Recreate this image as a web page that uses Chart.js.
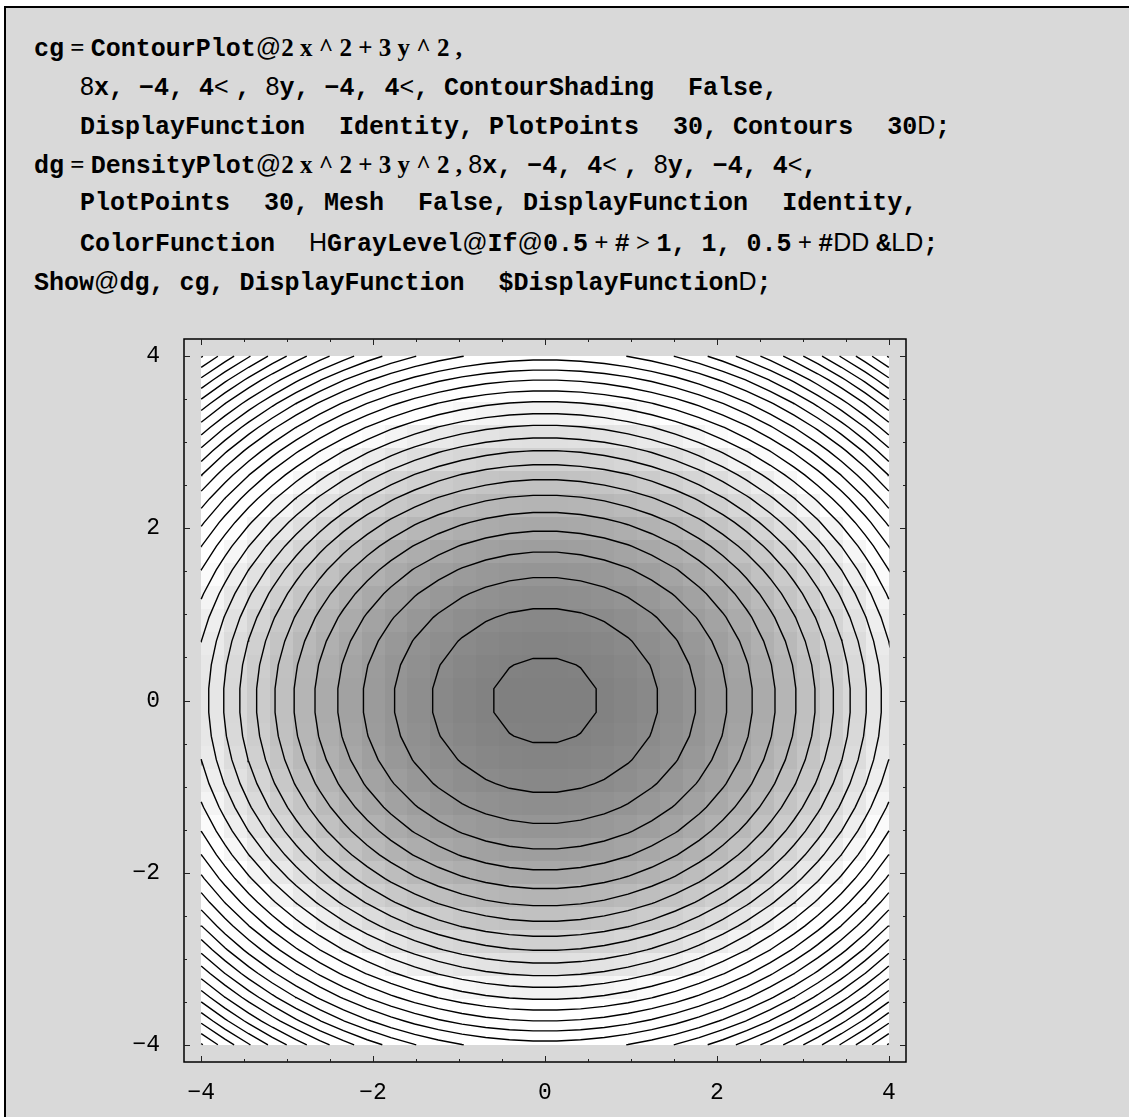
<!DOCTYPE html>
<html>
<head>
<meta charset="utf-8">
<script src="https://cdn.jsdelivr.net/npm/chart.js@4.4.1/dist/chart.umd.min.js"></script>
<style>
  html, body { margin:0; padding:0; background:#fff; }
  #page { position:absolute; left:4px; top:6px; width:1125px; height:1111px; background:#d9d9d9; border-left:2px solid #000; border-top:2px solid #000; }
  .c { position:absolute; left:0; white-space:pre; font:bold 25px "Liberation Mono", monospace; line-height:39px; color:#000; }
  .t { font-family:"Liberation Serif", serif; }
  .g { font-family:"Liberation Sans", sans-serif; font-weight:normal; }
  .a { display:inline-block; width:34px; }
  #wrap { position:absolute; left:0; top:300px; width:1129px; height:817px; }
</style>
</head>
<body>
<div id="page"></div>
<div class="c" style="left:34px;top:28px">cg<span class="t"> = </span>ContourPlot<span class="g">@</span><span class="t">2 x ^ 2 + 3 y ^ 2 ,</span></div>
<div class="c" style="left:80px;top:67px"><span class="g">8</span>x, −4, 4<span class="g">&lt; </span>, <span class="g">8</span>y, −4, 4<span class="g">&lt;</span>, ContourShading<span class="a"></span>False,</div>
<div class="c" style="left:80px;top:106px">DisplayFunction<span class="a"></span>Identity, PlotPoints<span class="a"></span>30, Contours<span class="a"></span>30<span class="g">D</span>;</div>
<div class="c" style="left:34px;top:145px">dg<span class="t"> = </span>DensityPlot<span class="g">@</span><span class="t">2 x ^ 2 + 3 y ^ 2 , </span><span class="g">8</span>x, −4, 4<span class="g">&lt; </span>, <span class="g">8</span>y, −4, 4<span class="g">&lt;</span>,</div>
<div class="c" style="left:80px;top:184px">PlotPoints<span class="a"></span>30, Mesh<span class="a"></span>False, DisplayFunction<span class="a"></span>Identity,</div>
<div class="c" style="left:80px;top:223px">ColorFunction<span class="a"></span><span class="g">H</span>GrayLevel<span class="g">@</span>If<span class="g">@</span>0.5<span class="t"> + </span>#<span class="t"> &gt; </span>1, 1, 0.5<span class="t"> + </span>#<span class="g">DD </span>&amp;<span class="g">LD</span>;</div>
<div class="c" style="left:34px;top:262px">Show<span class="g">@</span>dg, cg, DisplayFunction<span class="a"></span>$DisplayFunction<span class="g">D</span>;</div>
<div id="wrap"><canvas id="plot"></canvas></div>
<script>
// sample grid (PlotPoints 30 over -4..4)
const samples = [-4.000,-3.724,-3.448,-3.172,-2.897,-2.621,-2.345,-2.069,-1.793,-1.517,
  -1.241,-0.966,-0.690,-0.414,-0.138,0.138,0.414,0.690,0.966,1.241,
  1.517,1.793,2.069,2.345,2.621,2.897,3.172,3.448,3.724,4.000];
// contour levels (30 contours)
const levels = [0.8,3.5,6.2,9.0,11.7,14.4,17.1,19.8,22.6,25.3,
  28.0,30.7,33.4,36.2,38.9,41.6,44.3,47.0,49.8,52.5,
  55.2,57.9,60.6,63.4,66.1,68.8,71.5,74.2,77.0,79.7];
const majorTicks = [-4,-2,0,2,4];
const minorTicks = [-3.5,-3,-2.5,-1.5,-1,-0.5,0.5,1,1.5,2.5,3,3.5];
const plotRange = [-4.2, 4.2];

// the plotted function, 2 x^2 + 3 y^2
const f = (x, y) => 2*x*x + 3*y*y;
const n = samples.length;
const z = samples.map(y => samples.map(x => f(x, y)));  // z[j][i]
const zAll = z.flat();
const zMin = Math.min(...zAll), zMax = Math.max(...zAll);

// marching squares -> segments for one level
function contourSegments(c) {
  const segs = [];
  const lerp = (xa, ya, za, xb, yb, zb) => {
    const t = (c - za) / (zb - za);
    return [xa + t*(xb-xa), ya + t*(yb-ya)];
  };
  for (let j = 0; j < n-1; j++) {
    for (let i = 0; i < n-1; i++) {
      const x0 = samples[i], x1 = samples[i+1], y0 = samples[j], y1 = samples[j+1];
      const a = z[j][i], b = z[j][i+1], d = z[j+1][i], e = z[j+1][i+1];
      const pts = [];
      if ((a < c) !== (b < c)) pts.push(lerp(x0,y0,a, x1,y0,b));   // bottom edge
      if ((b < c) !== (e < c)) pts.push(lerp(x1,y0,b, x1,y1,e));   // right edge
      if ((d < c) !== (e < c)) pts.push(lerp(x0,y1,d, x1,y1,e));   // top edge
      if ((a < c) !== (d < c)) pts.push(lerp(x0,y0,a, x0,y1,d));   // left edge
      if (pts.length === 2) segs.push([pts[0], pts[1]]);
      else if (pts.length === 4) { segs.push([pts[0], pts[1]]); segs.push([pts[2], pts[3]]); }
    }
  }
  return segs;
}

function chain(segs) {
  const key = p => p[0].toFixed(5) + ',' + p[1].toFixed(5);
  const adj = new Map();
  segs.forEach((s, i) => s.forEach(p => {
    const k = key(p);
    if (!adj.has(k)) adj.set(k, []);
    adj.get(k).push(i);
  }));
  const used = segs.map(() => false);
  const walk = (idx, cur) => {
    const pts = [cur];
    while (idx !== -1) {
      used[idx] = true;
      const s = segs[idx];
      const nxt = key(s[0]) === key(cur) ? s[1] : s[0];
      pts.push(nxt); cur = nxt;
      const cand = adj.get(key(cur)).filter(k => !used[k]);
      idx = cand.length ? cand[0] : -1;
    }
    return pts;
  };
  const lines = [];
  for (const [k, list] of adj) {
    if (list.length === 1 && !used[list[0]]) {
      const s = segs[list[0]];
      lines.push(walk(list[0], key(s[0]) === k ? s[0] : s[1]));
    }
  }
  segs.forEach((s, i) => { if (!used[i]) lines.push(walk(i, s[0])); });
  return lines;
}

const datasets = levels.map(c => {
  const data = [];
  chain(contourSegments(c)).forEach(line => {
    line.forEach(p => data.push({x: p[0], y: p[1]}));
    data.push({x: NaN, y: NaN});
  });
  return { data, showLine: true, borderColor: '#000', borderWidth: 1.4, pointRadius: 0, tension: 0, spanGaps: false };
});

// density raster: GrayLevel[If[0.5 + # > 1, 1, 0.5 + #]]
const densityPlugin = {
  id: 'density',
  beforeDatasetsDraw(chart) {
    const {ctx, scales: {x, y}} = chart;
    const w = (samples[n-1] - samples[0]) / n;
    ctx.save();
    for (let j = 0; j < n; j++) {
      for (let i = 0; i < n; i++) {
        const v = (z[j][i] - zMin) / (zMax - zMin);
        const g = Math.round(255 * Math.min(1, 0.5 + v));
        const px0 = Math.round(x.getPixelForValue(samples[0] + i*w));
        const px1 = Math.round(x.getPixelForValue(samples[0] + (i+1)*w));
        const py0 = Math.round(y.getPixelForValue(samples[0] + (j+1)*w));
        const py1 = Math.round(y.getPixelForValue(samples[0] + j*w));
        ctx.fillStyle = `rgb(${g},${g},${g})`;
        ctx.fillRect(px0, py0, px1 - px0, py1 - py0);
      }
    }
    ctx.restore();
  }
};

// frame with inward ticks on all four sides
const framePlugin = {
  id: 'frame',
  afterDraw(chart) {
    const {ctx, chartArea: a, scales: {x, y}} = chart;
    ctx.save();
    ctx.strokeStyle = '#000';
    ctx.lineWidth = 1.5;
    ctx.strokeRect(a.left, a.top, a.right - a.left, a.bottom - a.top);
    ctx.lineWidth = 1;
    ctx.strokeStyle = '#222';
    const tick = (v, len) => {
      const px = Math.round(x.getPixelForValue(v)) + 0.5;
      const py = Math.round(y.getPixelForValue(v)) + 0.5;
      ctx.beginPath();
      ctx.moveTo(px, a.bottom); ctx.lineTo(px, a.bottom - len);
      ctx.moveTo(px, a.top); ctx.lineTo(px, a.top + len);
      ctx.moveTo(a.left, py); ctx.lineTo(a.left + len, py);
      ctx.moveTo(a.right, py); ctx.lineTo(a.right - len, py);
      ctx.stroke();
    };
    majorTicks.forEach(v => tick(v, 6));
    minorTicks.forEach(v => tick(v, 3));
    ctx.restore();
  }
};

const tickLabel = v => (v < 0 ? '\u2212' : '') + Math.abs(v);
const tickFont = { family: '"Liberation Mono", monospace', size: 23 };

new Chart(document.getElementById('plot'), {
  type: 'scatter',
  data: { datasets },
  plugins: [densityPlugin, framePlugin],
  options: {
    responsive: true, maintainAspectRatio: false, animation: false,
    layout: { padding: { top: 39, right: 223, left: 0, bottom: 0 } },
    plugins: { legend: { display: false }, tooltip: { enabled: false } },
    scales: {
      x: {
        type: 'linear', min: plotRange[0], max: plotRange[1],
        grid: { display: false }, border: { display: false },
        afterBuildTicks: s => { s.ticks = majorTicks.map(v => ({ value: v })); },
        afterFit: s => { s.height = 55; },
        ticks: { color: '#000', font: tickFont, padding: 9, maxRotation: 0, callback: tickLabel }
      },
      y: {
        type: 'linear', min: plotRange[0], max: plotRange[1],
        grid: { display: false }, border: { display: false },
        afterBuildTicks: s => { s.ticks = majorTicks.map(v => ({ value: v })); },
        afterFit: s => { s.width = 184; },
        ticks: { color: '#000', font: tickFont, padding: 16, callback: tickLabel }
      }
    }
  }
});
</script>
</body>
</html>
